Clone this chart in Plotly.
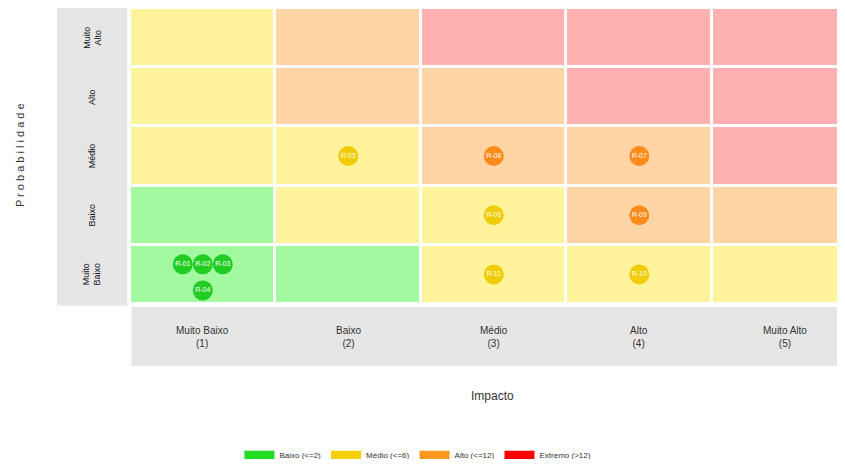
import plotly.graph_objects as go

# ---------------- data ----------------
impact_labels = ["Muito Baixo<br>(1)", "Baixo<br>(2)", "Médio<br>(3)", "Alto<br>(4)", "Muito Alto<br>(5)"]
prob_labels = ["Muito<br>Baixo", "Baixo", "Médio", "Alto", "Muito<br>Alto"]  # bottom -> top

# risk level per cell, rows top (Muito Alto) -> bottom (Muito Baixo); 1=Baixo 2=Médio 3=Alto 4=Extremo
level_rows_top_down = [
    [2, 3, 4, 4, 4],
    [2, 3, 3, 4, 4],
    [2, 2, 3, 3, 4],
    [1, 2, 2, 3, 3],
    [1, 1, 2, 2, 2],
]

risk_ids = ["R-01", "R-02", "R-03", "R-04", "R-05", "R-06", "R-07", "R-08", "R-09", "R-10", "R-11"]
risk_impact = [1, 1, 1, 1, 2, 3, 4, 3, 4, 4, 3]
risk_prob = [1, 1, 1, 1, 3, 2, 3, 3, 2, 1, 1]

legend_names = ["Baixo (<=2)", "Médio (<=6)", "Alto (<=12)", "Extremo (>12)"]
legend_colors = ["#22DD22", "#F5D000", "#FF9922", "#FF0000"]
cell_colors = ["#A2F9A0", "#FFF49C", "#FFD5A6", "#FFB0B1"]
marker_colors = ["#22CC22", "#F0CC00", "#FF8C1A", "#FF2020"]

FONT = "Liberation Sans Narrow, Arial Narrow, Liberation Sans, sans-serif"

# ---------------- figure ----------------
fig = go.Figure()

z = [row for row in reversed(level_rows_top_down)]
cs = []
for i, c in enumerate(cell_colors):
    cs.append([i / 4, c])
    cs.append([(i + 1) / 4, c])
fig.add_trace(go.Heatmap(
    x=[1, 2, 3, 4, 5], y=[1, 2, 3, 4, 5], z=z,
    colorscale=cs, zmin=0.5, zmax=4.5, showscale=False,
    xgap=3, ygap=3, hoverinfo="skip",
))

# cluster layout for several risks in one cell
mx, my, mc = [], [], []
cell_members = {}
for rid, ix, py in zip(risk_ids, risk_impact, risk_prob):
    cell_members.setdefault((ix, py), []).append(rid)
for rid, ix, py in zip(risk_ids, risk_impact, risk_prob):
    members = cell_members[(ix, py)]
    k = members.index(rid)
    n = len(members)
    if n == 1:
        dx, dy = 0.0, 0.0
    else:
        row, col = divmod(k, 3)
        in_row = min(3, n - row * 3)
        dx = (col - (in_row - 1) / 2) * 0.1375
        dy = 0.17 - 0.44 * row
    mx.append(ix + dx)
    my.append(py + dy)
    mc.append(marker_colors[level_rows_top_down[5 - py][ix - 1] - 1])

fig.add_trace(go.Scatter(
    x=mx, y=my, mode="markers+text", text=risk_ids,
    textposition="middle center",
    textfont=dict(family=FONT, size=7, color="white"),
    marker=dict(size=20, color=mc, line=dict(width=0)),
    showlegend=False, hoverinfo="text",
))

for name, col in zip(legend_names, legend_colors):
    fig.add_trace(go.Scatter(x=[None], y=[None], mode="lines", name=name,
                             line=dict(color=col, width=9)))

# gray label bands
shapes = [
    dict(type="rect", xref="x", yref="y", x0=-0.01, x1=0.48, y0=0.47, y1=5.5,
         fillcolor="#E6E6E6", line=dict(width=0), layer="below"),
    dict(type="rect", xref="x", yref="y", x0=0.51, x1=5.5, y0=-0.55, y1=0.45,
         fillcolor="#E6E6E6", line=dict(width=0), layer="below"),
]

annotations = []
for i, lab in enumerate(prob_labels):
    annotations.append(dict(x=0.24, y=i + 1, xref="x", yref="y", text=lab, showarrow=False,
                            textangle=-90, font=dict(family=FONT, size=9, color="#111")))
for i, lab in enumerate(impact_labels):
    annotations.append(dict(x=i + 1, y=-0.05, xref="x", yref="y", text=lab, showarrow=False,
                            font=dict(family=FONT, size=10, color="#333")))
annotations.append(dict(x=0.553, y=-0.084, xref="paper", yref="paper", text="Impacto",
                        xanchor="center", yanchor="middle",
                        showarrow=False, font=dict(family=FONT, size=12, color="#333")))
annotations.append(dict(x=-0.047, y=0.589, xref="paper", yref="paper",
                        text="P r o b a b i l i d a d e",
                        xanchor="center", yanchor="middle",
                        showarrow=False, textangle=-90,
                        font=dict(family="Liberation Sans, Arial, sans-serif", size=11, color="#333")))

fig.update_layout(
    width=837, height=451,
    margin=dict(l=49, r=0, t=0, b=93, autoexpand=False),
    plot_bgcolor="white", paper_bgcolor="white",
    xaxis=dict(range=[-0.002, 5.414], showgrid=False, zeroline=False, showticklabels=False,
               ticks="", fixedrange=True),
    yaxis=dict(range=[-0.547, 5.5], showgrid=False, zeroline=False, showticklabels=False,
               ticks="", fixedrange=True),
    shapes=shapes,
    annotations=annotations,
    showlegend=True,
    legend=dict(orientation="h", x=0.458, xanchor="center", y=-0.249, yanchor="middle",
                font=dict(family=FONT, size=8, color="#333"), itemwidth=30,
                tracegroupgap=0, bgcolor="rgba(0,0,0,0)"),
)

fig.write_html("out.html", config={"displayModeBar": False})
